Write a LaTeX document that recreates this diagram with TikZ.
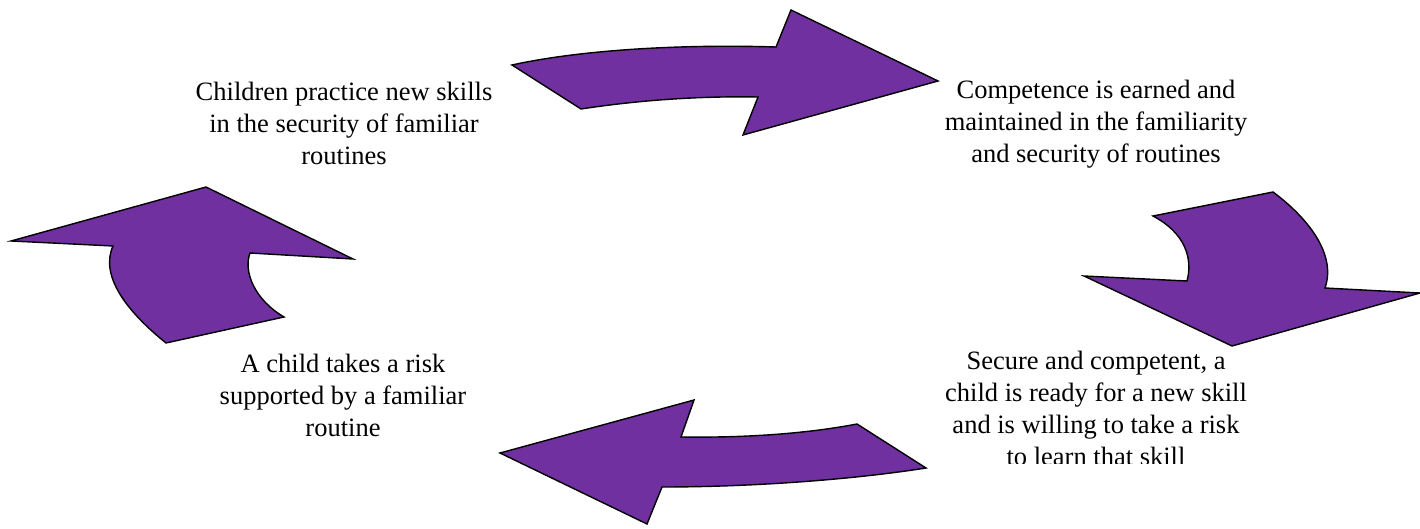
\documentclass[tikz,border=0pt]{standalone}
\usepackage{fontspec}
\setmainfont{Liberation Serif}
\definecolor{arrowpurple}{HTML}{7030A0}
\begin{document}
\begin{tikzpicture}[x=1pt,y=-1pt,
  blockarrow/.style={fill=arrowpurple,draw=black,line width=1.4pt,line join=miter},
  label/.style={align=center,inner sep=0pt,anchor=base,font=\fontsize{26.5}{32}\selectfont}]
\useasboundingbox (0,0) rectangle (1420,529);
% top arrow
\path[blockarrow] (512,65) -- (581,109) .. controls (640,100) and (700,96) .. (758,97)
  -- (743,135) -- (938,81) -- (791,10) -- (776,47)
  .. controls (680,44) and (580,50) .. (512,65) -- cycle;
% right arrow
\path[blockarrow] (1153,216) -- (1273,192) .. controls (1300,212) and (1338,250) .. (1325,288)
  -- (1420,293) -- (1232,346) -- (1084,276) -- (1187,281)
  .. controls (1193,258) and (1185,233) .. (1153,216) -- cycle;
% bottom arrow
\path[blockarrow] (500,453) -- (694,400) -- (681,437) .. controls (750,438) and (810,433) .. (857,424)
  -- (926,468) .. controls (850,480) and (750,487) .. (662,487) -- (647,524) -- cycle;
% left arrow
\path[blockarrow] (11,241) -- (206,187) -- (353,259) -- (250,253)
  .. controls (243,272) and (255,300) .. (284,317) -- (166,343)
  .. controls (125,310) and (100,275) .. (113,246) -- cycle;
% texts (base anchor = baseline of the last line)
\node[label] (tl) at (344,165) {Children practice new skills\\in the security of familiar\\routines};
\node[label] (tr) at (1096,163) {Competence is earned and\\maintained in the familiarity\\and security of routines};
\node[label] (bl) at (343,436) {A child takes a risk\\supported by a familiar\\routine};
\begin{scope}
\clip (900,330) rectangle (1300,463);
\node[label] (br) at (1096,465) {Secure and competent, a\\child is ready for a new skill\\and is willing to take a risk\\to learn that skill};
\end{scope}
\end{tikzpicture}
\end{document}
